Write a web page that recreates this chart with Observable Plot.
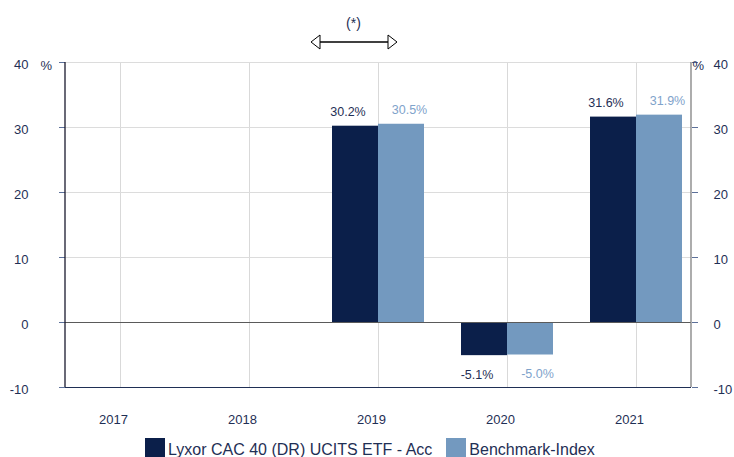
<!DOCTYPE html>
<html>
<head>
<meta charset="utf-8">
<script src="https://cdn.jsdelivr.net/npm/d3@7"></script>
<script src="https://cdn.jsdelivr.net/npm/@observablehq/plot@0.6"></script>
<style>
  html, body { margin: 0; padding: 0; background: #fff; overflow: hidden; }
  body { width: 734px; height: 457px; font-family: "Liberation Sans", Arial, sans-serif; }
  #legend { height: 23px; position: relative; display: flex; align-items: flex-start; padding-left: 145px; color: #1f2f55; font-size: 16px; white-space: nowrap; }
  .sw { width: 20px; height: 20px; margin-top: 4px; margin-right: 3px; flex: none; }
  .lab { line-height: 23px; margin-top: 4px; }
</style>
</head>
<body>
<div id="chart"></div>
<div id="legend"></div>
<script>
const years = ["2017", "2018", "2019", "2020", "2021"];
const fundName = "Lyxor CAC 40 (DR) UCITS ETF - Acc";
const benchName = "Benchmark-Index";
const fundValues = [null, null, 30.2, -5.1, 31.6];
const benchValues = [null, null, 30.5, -5.0, 31.9];
const yTicks = [40, 30, 20, 10, 0, -10];
const darkColor = "#0b1f4a";
const lightColor = "#7399bf";
const textDark = "#1f2f55";
const textLight = "#7fa3cb";

const fundRows = years.map((y, i) => ({year: y, value: fundValues[i]})).filter(d => d.value != null);
const benchRows = years.map((y, i) => ({year: y, value: benchValues[i]})).filter(d => d.value != null);
const fmt = d => d.value.toFixed(1) + "%";

const W = 734, H = 434, mL = 65, mR = 43, mT = 62, mB = 47;

const plot = Plot.plot({
  width: W, height: H,
  marginLeft: mL, marginRight: mR, marginTop: mT, marginBottom: mB,
  style: {fontFamily: "Liberation Sans, Arial, sans-serif", background: "#fff"},
  x: {domain: years, paddingInner: 0.644, paddingOuter: 0.242, axis: null, label: null},
  y: {domain: [-10, 40], axis: null, label: null},
  marks: [
    Plot.gridX(years, {stroke: "#d9d9d9", strokeOpacity: 1}),
    Plot.gridY([40, 30, 20, 10], {stroke: "#dcdcdc", strokeOpacity: 1}),
    Plot.barY(fundRows, {x: "year", y: "value", fill: darkColor, dx: -23}),
    Plot.barY(benchRows, {x: "year", y: "value", fill: lightColor, dx: 23}),
    Plot.ruleY([0], {stroke: "#5a5a5a", strokeWidth: 1.2}),
    Plot.ruleY([-10], {stroke: textDark, strokeWidth: 1.2}),
    Plot.text(fundRows.filter(d => d.value >= 0), {x: "year", y: "value", text: fmt, dx: -30.5, dy: -14, fill: textDark, fontSize: 12.5}),
    Plot.text(benchRows.filter(d => d.value >= 0), {x: "year", y: "value", text: fmt, dx: 31, dy: -14, fill: textLight, fontSize: 12.5}),
    Plot.text(fundRows.filter(d => d.value < 0), {x: "year", y: "value", text: fmt, dx: -30.5, dy: 19, fill: textDark, fontSize: 12.5}),
    Plot.text(benchRows.filter(d => d.value < 0), {x: "year", y: "value", text: fmt, dx: 30, dy: 19, fill: textLight, fontSize: 12.5}),
    // tick marks
    Plot.axisY(yTicks, {anchor: "left", label: null, tickSize: 6, stroke: "#5c7099", tickFormat: () => ""}),
    Plot.axisY(yTicks, {anchor: "right", label: null, tickSize: 6, stroke: "#5c7099", tickFormat: () => ""}),
    // tick labels
    Plot.axisY(yTicks, {anchor: "left", label: null, tickSize: 0, tickPadding: 37, fill: textDark, fontSize: 13, dy: 2, tickFormat: d => String(d)}),
    Plot.axisY(yTicks, {anchor: "right", label: null, tickSize: 0, tickPadding: 22, fill: textDark, fontSize: 13, dy: 2, tickFormat: d => String(d)}),
    Plot.axisX(years, {anchor: "bottom", label: null, tickSize: 0, tickPadding: 27, fill: textDark, fontSize: 13, dx: -7}),
    Plot.text(["%"], {frameAnchor: "top-left", dx: -25, dy: -2, fill: textDark, fontSize: 13}),
    Plot.text(["%"], {frameAnchor: "top-right", dx: 1, dy: -2, textAnchor: "start", fill: textDark, fontSize: 13}),
    Plot.text(["(*)"], {x: ["2019"], frameAnchor: "top", dx: -25, dy: -44, fill: textDark, fontSize: 14})
  ]
});

// frame side lines and the double arrow annotation, placed from the scales
const svg = d3.select(plot);
const xs = plot.scale("x");
const ys = plot.scale("y");
const yTop = ys.apply(40), yBot = ys.apply(-10);
svg.append("line").attr("x1", mL).attr("x2", mL).attr("y1", yTop).attr("y2", yBot)
  .attr("stroke", "#1a1a2e").attr("stroke-width", 1.3);
svg.append("line").attr("x1", W - mR).attr("x2", W - mR).attr("y1", yTop).attr("y2", yBot)
  .attr("stroke", "#808080").attr("stroke-width", 1.3);
const xc = xs.apply("2019") + xs.bandwidth / 2;
const ay = 42;
const l = xc - 67, r = xc + 19;
svg.append("line").attr("x1", l + 9).attr("x2", r - 9).attr("y1", ay).attr("y2", ay)
  .attr("stroke", "#000").attr("stroke-width", 1.5);
svg.append("path").attr("d", `M${l},${ay}L${l + 9},${ay - 7}L${l + 9},${ay + 7}Z`)
  .attr("fill", "#fff").attr("stroke", "#000").attr("stroke-width", 1);
svg.append("path").attr("d", `M${r},${ay}L${r - 9},${ay - 7}L${r - 9},${ay + 7}Z`)
  .attr("fill", "#fff").attr("stroke", "#000").attr("stroke-width", 1);

document.getElementById("chart").appendChild(plot);

const legend = document.getElementById("legend");
[[fundName, darkColor, 0], [benchName, lightColor, 14]].forEach(([name, color, ml]) => {
  const sw = document.createElement("div");
  sw.className = "sw"; sw.style.background = color; sw.style.marginLeft = ml + "px";
  const lab = document.createElement("div");
  lab.className = "lab"; lab.textContent = name;
  legend.appendChild(sw); legend.appendChild(lab);
});
</script>
</body>
</html>
